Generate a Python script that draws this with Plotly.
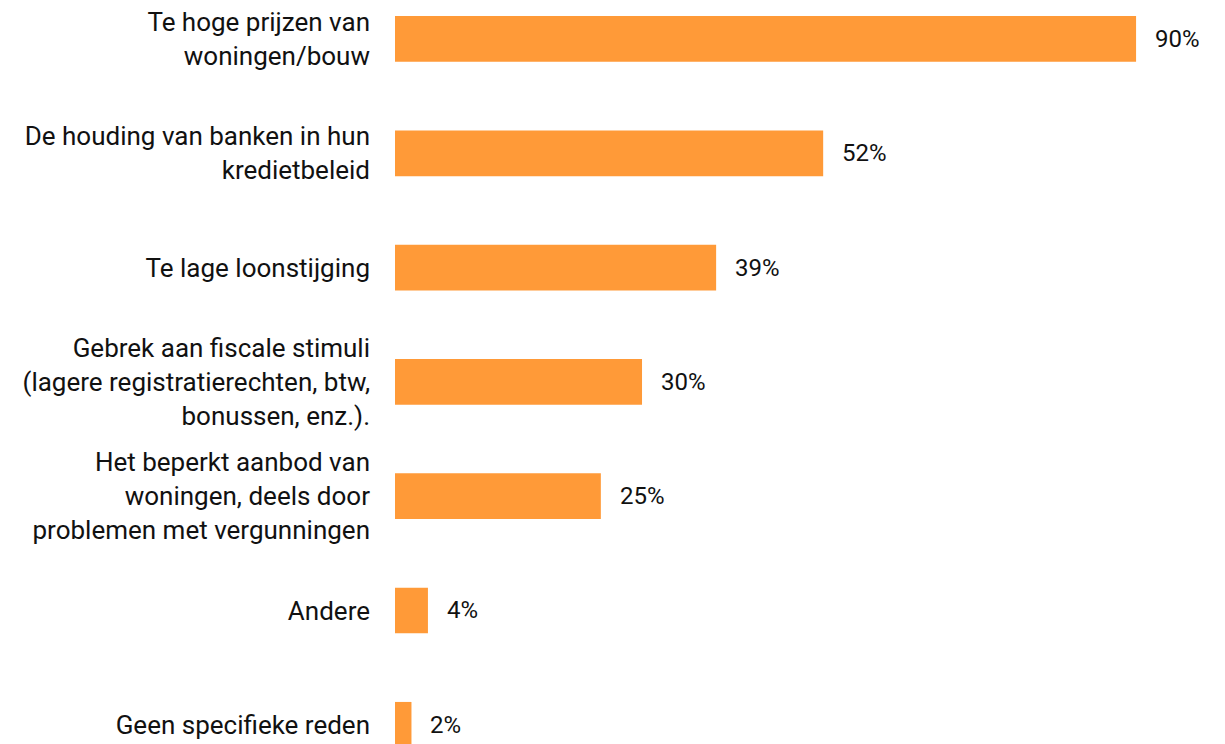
import plotly.graph_objects as go

# Survey answers: reasons, in display order (top to bottom)
categories = [
    "Te hoge prijzen van<br>woningen/bouw",
    "De houding van banken in hun<br>kredietbeleid",
    "Te lage loonstijging",
    "Gebrek aan fiscale stimuli<br>(lagere registratierechten, btw,<br>bonussen, enz.).",
    "Het beperkt aanbod van<br>woningen, deels door<br>problemen met vergunningen",
    "Andere",
    "Geen specifieke reden",
]
values = [90, 52, 39, 30, 25, 4, 2]

BAR_COLOR = "#FF9A38"
TEXT_COLOR = "#111111"
FONT = "Roboto, sans-serif"
LABEL_SIZE = 26
VALUE_SIZE = 24

fig = go.Figure(
    go.Bar(
        x=values,
        y=list(range(len(categories))),
        orientation="h",
        marker=dict(color=BAR_COLOR, line=dict(width=0)),
        width=0.4,
        hoverinfo="skip",
    )
)

# Percentage labels to the right of each bar
for i, v in enumerate(values):
    fig.add_annotation(
        x=v, y=i, xref="x", yref="y",
        text=f"{v}%", showarrow=False,
        xanchor="left", yanchor="middle", xshift=17,
        font=dict(family=FONT, size=VALUE_SIZE, color=TEXT_COLOR),
    )

fig.update_layout(
    width=1225, height=744,
    margin=dict(l=395, r=0, t=0, b=0),
    paper_bgcolor="white", plot_bgcolor="white",
    showlegend=False,
    font=dict(family=FONT, size=LABEL_SIZE, color=TEXT_COLOR),
)
fig.update_xaxes(range=[0, 100.8], visible=False, fixedrange=True)
fig.update_yaxes(
    tickmode="array",
    tickvals=list(range(len(categories))),
    ticktext=categories,
    range=[6.168, -0.341],
    showgrid=False, zeroline=False, showline=False,
    ticks="", ticklabelstandoff=24,
    tickfont=dict(family=FONT, size=LABEL_SIZE, color=TEXT_COLOR),
    automargin=False, fixedrange=True,
)

fig.write_html("out.html", config={"displayModeBar": False})
